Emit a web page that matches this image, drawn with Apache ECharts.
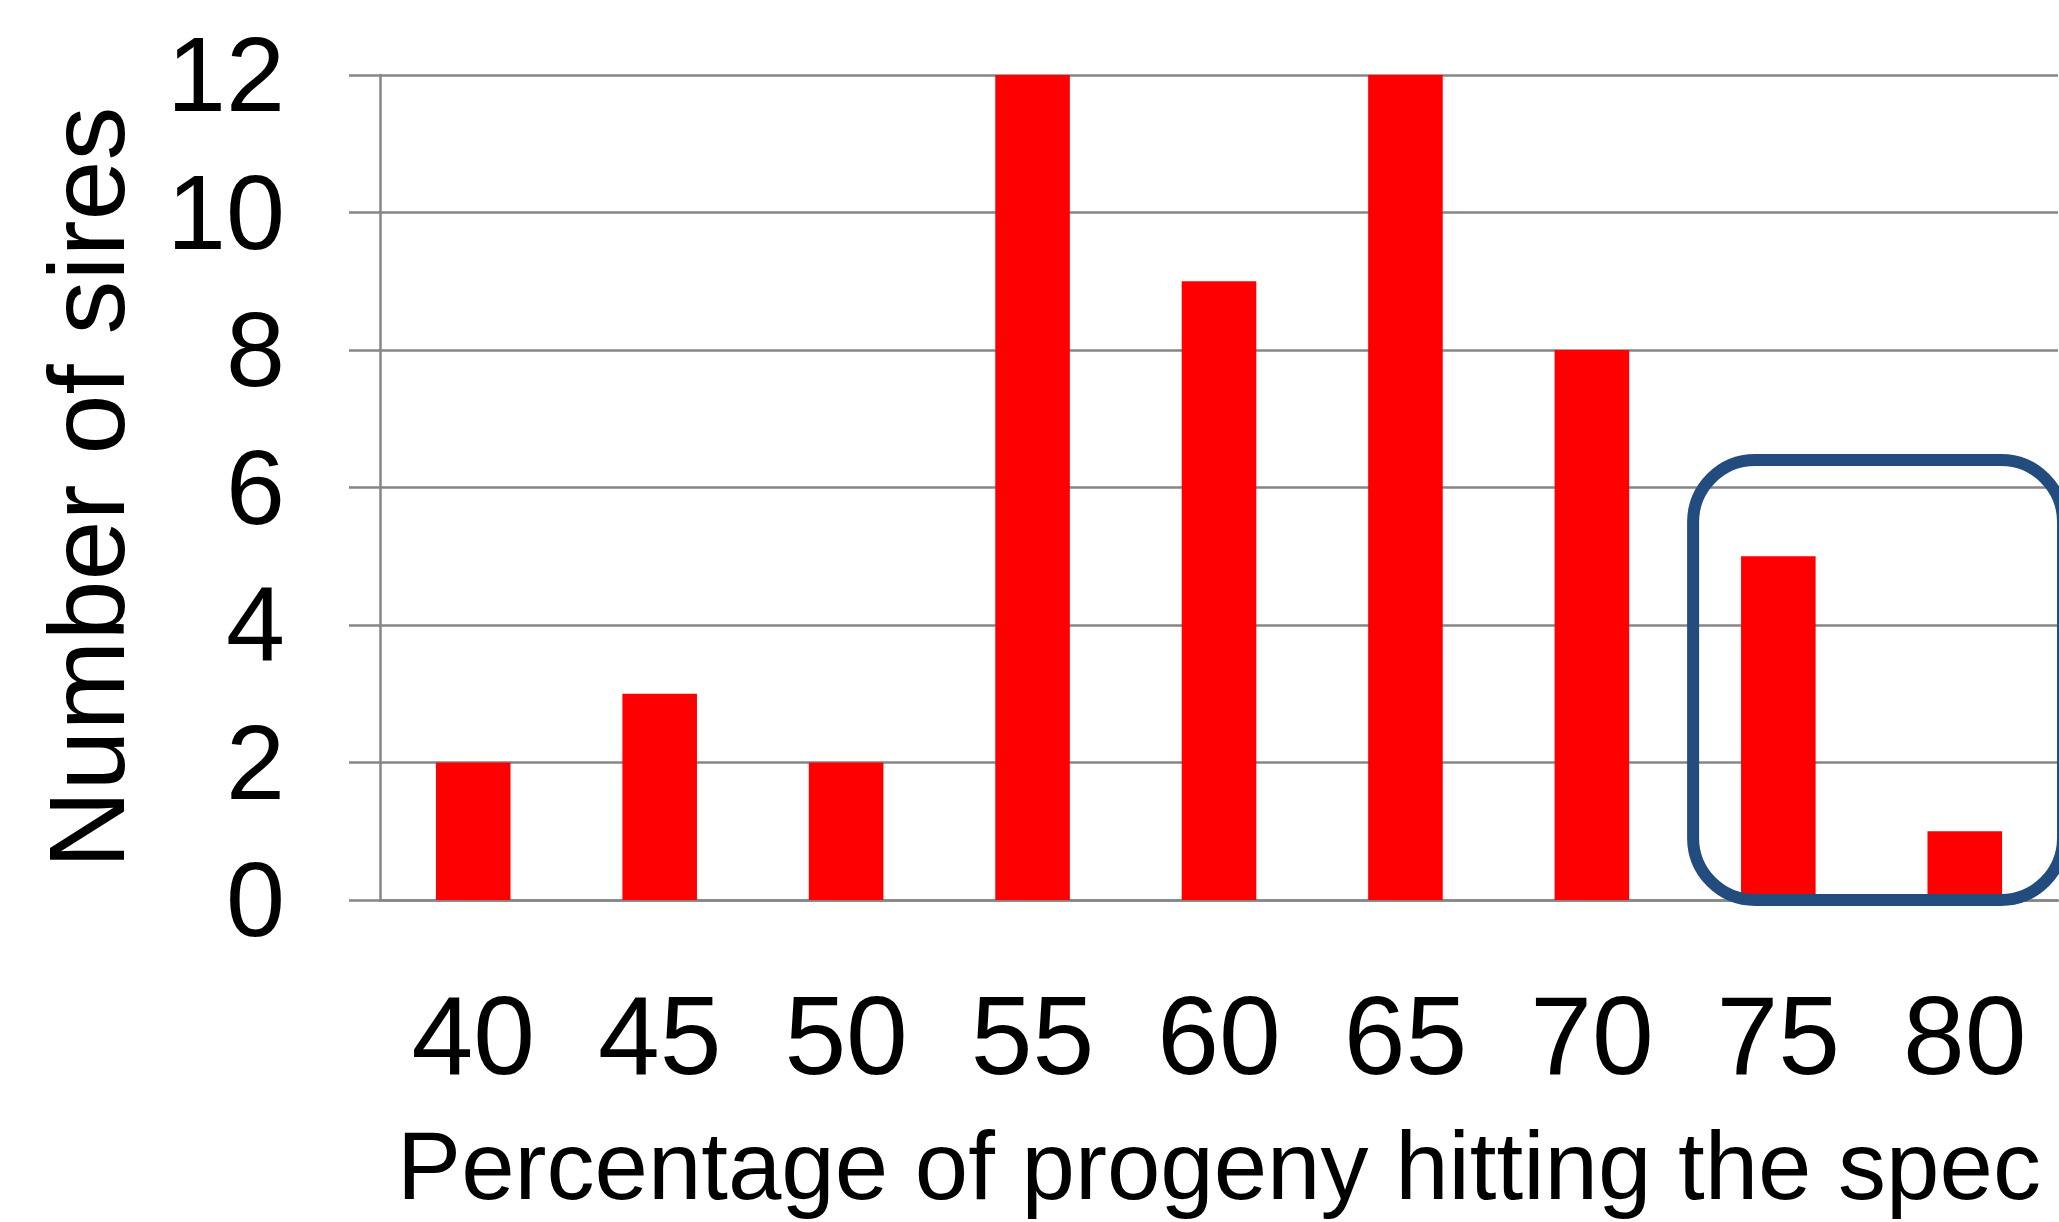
<html>
    <head>
        <meta charset="UTF-8" />
        <script src="https://cdn.jsdelivr.net/npm/echarts@6/dist/echarts.min.js"></script>
        <style>
            html, body { margin: 0; padding: 0; background: #ffffff; }
        </style>
    </head>
    <body>
        <div id="container" style="width: 2059px; height: 1222px;"></div>
        <script>
            // data
            var categories = ['40', '45', '50', '55', '60', '65', '70', '75', '80'];
            var sireCounts = [2, 3, 2, 12, 9, 12, 8, 5, 1];
            var yMin = 0;
            var yMax = 12;
            var yStep = 2;
            // the boxed group at the right end
            var boxedFrom = '75';
            var boxedTo = '80';
            var boxTopValue = 6.4;

            var fontFamily = '"Liberation Sans", Arial, sans-serif';
            var greyLine = '#868686';

            var chart = echarts.init(document.getElementById('container'));

            var option = {
                animation: false,
                backgroundColor: '#ffffff',
                grid: { left: 380, right: 1, top: 75, bottom: 322, outerBoundsMode: 'none' },
                xAxis: {
                    type: 'category',
                    data: categories,
                    name: 'Percentage of progeny hitting the spec',
                    nameLocation: 'middle',
                    nameGap: 225,
                    nameTextStyle: { color: '#000000', fontSize: 96, fontFamily: fontFamily },
                    axisLine: { lineStyle: { color: greyLine, width: 2.5 } },
                    axisTick: { length: 33, lineStyle: { color: greyLine, width: 2.5 } },
                    axisLabel: { color: '#000000', fontSize: 111, fontFamily: fontFamily, margin: 88 }
                },
                yAxis: {
                    type: 'value',
                    min: yMin,
                    max: yMax,
                    interval: yStep,
                    name: 'Number of sires',
                    nameLocation: 'middle',
                    nameGap: 232,
                    nameRotate: 90,
                    nameTextStyle: { color: '#000000', fontSize: 108, fontFamily: fontFamily },
                    axisLine: { show: true, lineStyle: { color: greyLine, width: 2.5 } },
                    axisTick: { show: true, length: 31, lineStyle: { color: greyLine, width: 2.5 } },
                    // small line box pinned at the top nudges digits down onto the gridline
                    axisLabel: {
                        color: '#000000', fontSize: 106, fontFamily: fontFamily, margin: 95,
                        verticalAlign: 'top', lineHeight: 14
                    },
                    splitLine: { lineStyle: { color: greyLine, width: 2.5 } }
                },
                series: [{
                    type: 'bar',
                    data: sireCounts,
                    barWidth: '40%',
                    itemStyle: { color: '#ff0000' }
                }]
            };
            chart.setOption(option);

            // rounded box around the last two bars, placed from the axes
            var xa = chart.convertToPixel({ xAxisIndex: 0 }, boxedFrom);
            var xb = chart.convertToPixel({ xAxisIndex: 0 }, boxedTo);
            var band = (xb - xa) / (categories.indexOf(boxedTo) - categories.indexOf(boxedFrom));
            var yTop = chart.convertToPixel({ yAxisIndex: 0 }, boxTopValue);
            var yBottom = chart.convertToPixel({ yAxisIndex: 0 }, yMin);
            var left = xa - band / 2 + 8;
            var right = xb + band / 2 + 5;

            chart.setOption({
                graphic: [{
                    type: 'rect',
                    z: 100,
                    shape: { x: left, y: yTop, width: right - left, height: yBottom - yTop, r: 62 },
                    style: { fill: 'none', stroke: '#224b7e', lineWidth: 12 }
                }]
            });
        </script>
    </body>
</html>
